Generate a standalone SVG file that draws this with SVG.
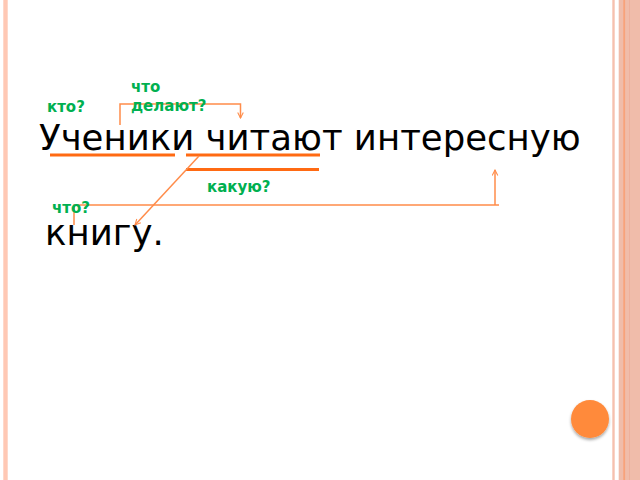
<svg xmlns="http://www.w3.org/2000/svg" width="640" height="480" viewBox="0 0 640 480">
<defs>
<style>
.main{font-family:"DejaVu Sans",sans-serif;font-size:35.5px;fill:#000}
.q{font-family:"DejaVu Sans",sans-serif;font-size:15px;font-weight:bold;fill:#00b050}
.ul{stroke:#ff6a13;stroke-width:3;fill:none}
.cn{stroke:#ff8c4a;stroke-width:1.5;fill:none}
</style>
<marker id="ah" viewBox="0 0 10 10" refX="9" refY="5" markerWidth="7" markerHeight="7" orient="auto" markerUnits="userSpaceOnUse">
<path d="M1,1 L9,5 L1,9" fill="none" stroke="#ff8c4a" stroke-width="1.5"/>
</marker>
<filter id="sh" x="-30%" y="-30%" width="160%" height="160%"><feDropShadow dx="0" dy="2" stdDeviation="1.5" flood-color="#000" flood-opacity="0.35"/></filter>
</defs>
<rect width="640" height="480" fill="#fff"/>
<g id="border">
<rect x="3.3" y="0" width="4.4" height="480" fill="#ffc8b4"/>
<rect x="612.3" y="0" width="2.4" height="480" fill="#f6c0ae"/>
<rect x="618.7" y="0" width="21.3" height="480" fill="#f0bcaa"/>
<rect x="623.3" y="0" width="1.8" height="480" fill="#f8a27a"/>
<rect x="629" y="0" width="1" height="480" fill="#eeb09c"/>
</g>
<g id="sentence">
<text class="main" x="39" y="150">Ученики читают интересную</text>
<text class="main" x="45" y="245">книгу.</text>
</g>
<g id="underlines">
<line class="ul" x1="50" y1="155" x2="175" y2="155"/>
<line class="ul" x1="186" y1="155" x2="320" y2="155"/>
<line class="ul" x1="186" y1="169.5" x2="319" y2="169.5"/>
</g>
<g id="connectors">
<path class="cn" d="M120,125 V104 H240.5 V118" marker-end="url(#ah)"/>
<path class="cn" d="M199,156 L135,225" marker-end="url(#ah)"/>
<path class="cn" d="M74,225 V205 H499"/>
<path class="cn" d="M495,205 V170" marker-end="url(#ah)"/>
</g>
<g id="labels">
<text class="q" x="47" y="112">кто?</text>
<text class="q" x="131" y="92">что</text>
<text class="q" x="131" y="111">делают?</text>
<text class="q" x="207" y="192">какую?</text>
<text class="q" x="52" y="213">что?</text>
</g>
<g id="button">
<circle cx="590" cy="419" r="19" fill="#ff8a3a" filter="url(#sh)"/>
</g>
</svg>
